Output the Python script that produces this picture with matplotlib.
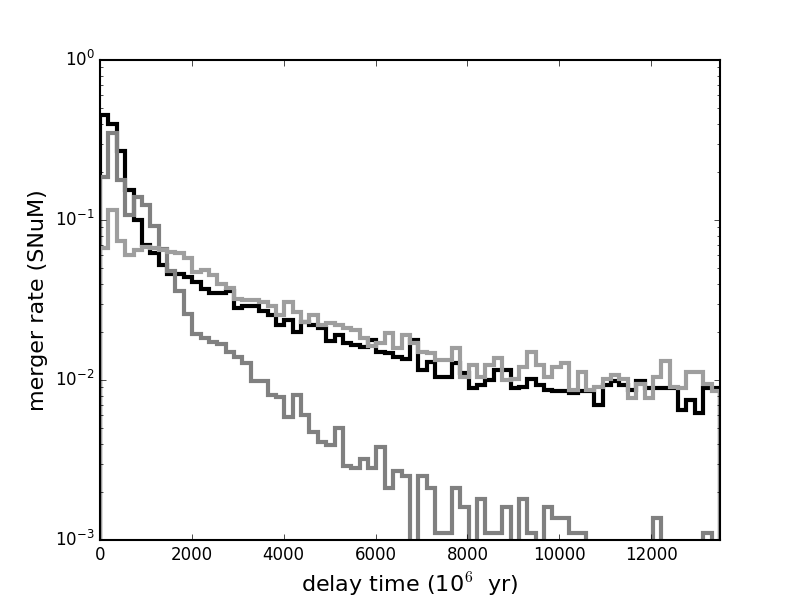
import numpy as np
import matplotlib
matplotlib.use('Agg')
from matplotlib import pyplot as plt

plt.style.use('classic')
plt.rcParams['figure.facecolor'] = 'white'
plt.rcParams['savefig.facecolor'] = 'white'

# bin edges of the delay time histograms (10^6 yr)
edges = np.linspace(0, 13500, 75)

# merger rate per bin (SNuM)
rate_black = [0.45, 0.40, 0.27, 0.155, 0.10, 0.070, 0.062, 0.052, 0.046, 0.046,
              0.044, 0.041, 0.037, 0.035, 0.035, 0.036, 0.028, 0.029, 0.029, 0.027,
              0.0255, 0.022, 0.0237, 0.020, 0.023, 0.022, 0.021, 0.0176, 0.019, 0.0171,
              0.0165, 0.0160, 0.0178, 0.0150, 0.0147, 0.0140, 0.0135, 0.0178, 0.0116, 0.0130,
              0.0105, 0.0105, 0.0128, 0.0110, 0.0089, 0.0093, 0.0100, 0.0116, 0.0116, 0.0089,
              0.0091, 0.0102, 0.0093, 0.0087, 0.0085, 0.0085, 0.0083, 0.0085, 0.0085, 0.0070,
              0.0093, 0.0098, 0.0093, 0.0087, 0.0098, 0.0089, 0.0089, 0.0089, 0.0089, 0.0065,
              0.0075, 0.0062, 0.0089, 0.0089]

rate_light = [0.0665, 0.116, 0.0735, 0.0606, 0.065, 0.068, 0.0665, 0.065, 0.0635, 0.062,
              0.0575, 0.0475, 0.0487, 0.045, 0.040, 0.0375, 0.032, 0.0316, 0.0316, 0.0309,
              0.029, 0.0255, 0.0309, 0.0267, 0.0232, 0.0255, 0.0222, 0.0226, 0.0220, 0.0212,
              0.0206, 0.0182, 0.0162, 0.0170, 0.0196, 0.0158, 0.0191, 0.0170, 0.0150, 0.0147,
              0.0133, 0.0133, 0.0158, 0.0105, 0.0124, 0.0105, 0.0124, 0.0137, 0.0100, 0.0102,
              0.0121, 0.0150, 0.0124, 0.0105, 0.0120, 0.0127, 0.0087, 0.0113, 0.0087, 0.0091,
              0.0102, 0.0107, 0.0102, 0.0077, 0.0095, 0.0077, 0.0105, 0.0131, 0.0091, 0.0089,
              0.0113, 0.0113, 0.0095, 0.0085]

rate_dark = [0.186, 0.348, 0.178, 0.107, 0.140, 0.124, 0.092, 0.066, 0.048, 0.036,
             0.026, 0.0195, 0.0182, 0.0174, 0.0167, 0.0150, 0.0139, 0.0127, 0.0098, 0.0098,
             0.0081, 0.0078, 0.0059, 0.0081, 0.0060, 0.0047, 0.0041, 0.0039, 0.0050, 0.0029,
             0.0028, 0.0032, 0.0028, 0.0038, 0.0021, 0.0027, 0.0025, 0.0, 0.0025, 0.0021,
             0.0011, 0.0011, 0.0021, 0.0016, 0.0, 0.0018, 0.0011, 0.0011, 0.0016, 0.0,
             0.0018, 0.0011, 0.0, 0.0016, 0.00137, 0.00137, 0.0011, 0.0011, 0.0, 0.0,
             0.0, 0.0, 0.0, 0.0, 0.0, 0.0, 0.00137, 0.0, 0.0, 0.0,
             0.0, 0.0, 0.0011, 0.0]

fig = plt.figure(figsize=(8, 6), dpi=100)
ax = fig.add_subplot(111)

ax.stairs(rate_black, edges, color='black', linewidth=3)
ax.stairs(rate_dark, edges, color='0.5', linewidth=3)
ax.stairs(rate_light, edges, color='0.62', linewidth=3)

ax.set_yscale('log', nonpositive='clip')
ax.set_xlim(0, 13500)
ax.set_ylim(1e-3, 1)
ax.set_xticks([0, 2000, 4000, 6000, 8000, 10000, 12000])

for sp in ax.spines.values():
    sp.set_linewidth(1.5)

ax.set_xlabel(r'delay time (10$^6$  yr)', fontsize=16)
ax.set_ylabel('merger rate (SNuM)', fontsize=16)

fig.savefig('out.png', dpi=100)
